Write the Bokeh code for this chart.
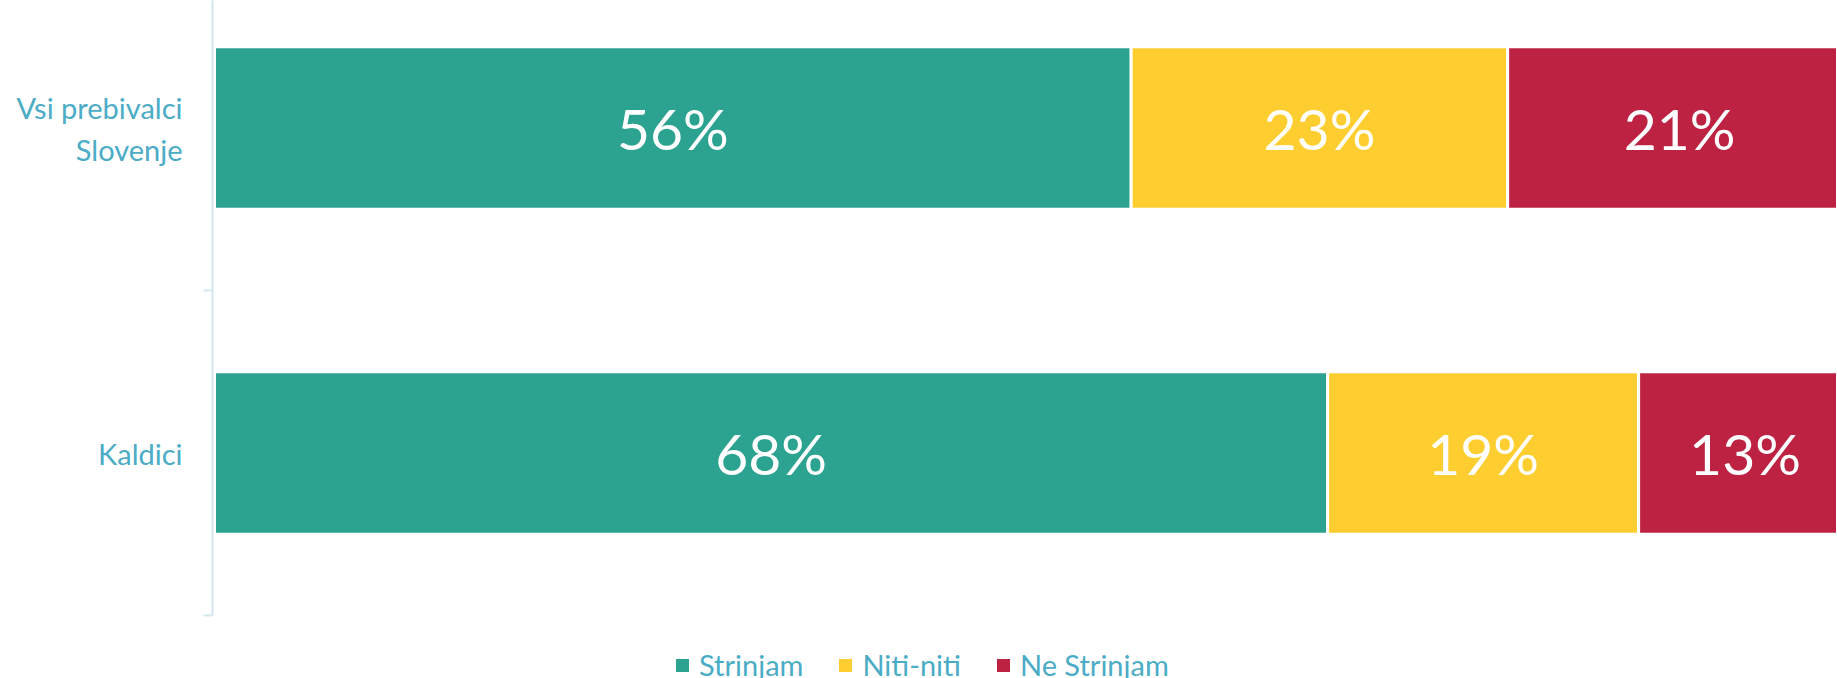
from bokeh.plotting import figure
from bokeh.models import ColumnDataSource, Range1d, FixedTicker, Legend, LegendItem
from bokeh.core.properties import value
from bokeh.embed import file_html
from bokeh.resources import INLINE

# ---- data ----
categories = ["Kaldici", "Vsi prebivalci\nSlovenje"]
series = ["Strinjam", "Niti-niti", "Ne Strinjam"]
strinjam = [68, 56]
niti_niti = [19, 23]
ne_strinjam = [13, 21]
colors = ["#2CA291", "#FECD2F", "#BD2243"]

FONT = "Lato"
LABEL_COLOR = "#4BACC6"
AXIS_COLOR = "#D3E7EF"

ypos = [i + 0.5 for i in range(len(categories))]
values = [strinjam, niti_niti, ne_strinjam]

p = figure(frame_width=1625, frame_height=678, output_backend="svg", toolbar_location=None,
           x_range=Range1d(-0.122, 99.15), y_range=Range1d(-0.1938, 1.8923),
           x_axis_location=None, y_axis_location="left",
           min_border_left=212, min_border_right=0, min_border_top=0, min_border_bottom=0)
p.outline_line_color = None
p.xgrid.visible = False
p.ygrid.visible = False
p.background_fill_color = "white"
p.border_fill_color = "white"

items = []
left = [0] * len(categories)
for name, vals, col in zip(series, values, colors):
    right = [l + v for l, v in zip(left, vals)]
    src = ColumnDataSource(dict(y=ypos, left=left, right=right,
                                mid=[(l + r) / 2 for l, r in zip(left, right)],
                                lab=[f"{v}%" for v in vals]))
    r = p.hbar(y="y", left="left", right="right", height=0.5, source=src,
               fill_color=col, line_color="white", line_width=3)
    p.text(x="mid", y="y", text="lab", source=src, text_color="white",
           text_font=value(FONT), text_font_size="57px",
           text_align="center", text_baseline="middle")
    items.append(LegendItem(label=name, renderers=[r]))
    left = right

ax = p.yaxis[0]
ax.bounds = (0, len(categories))
ax.ticker = FixedTicker(ticks=ypos, minor_ticks=list(range(len(categories) + 1)))
ax.major_label_overrides = {y: c for y, c in zip(ypos, categories)}
ax.major_tick_out = 0
ax.major_tick_in = 0
ax.minor_tick_out = 9
ax.minor_tick_in = 0
ax.axis_line_color = AXIS_COLOR
ax.axis_line_width = 2
ax.minor_tick_line_color = AXIS_COLOR
ax.minor_tick_line_width = 2
ax.major_label_text_color = LABEL_COLOR
ax.major_label_text_font = FONT
ax.major_label_text_font_size = "29px"
ax.major_label_standoff = 21

legend = Legend(items=items, orientation="horizontal", location=(460, -4),
                label_text_font=FONT, label_text_font_size="29px",
                label_text_color=LABEL_COLOR, glyph_width=20, glyph_height=20,
                label_standoff=7, spacing=32, padding=0, margin=0,
                border_line_color=None, background_fill_alpha=0)
p.add_layout(legend, "center")

open("out.html", "w").write(file_html(p, INLINE))
